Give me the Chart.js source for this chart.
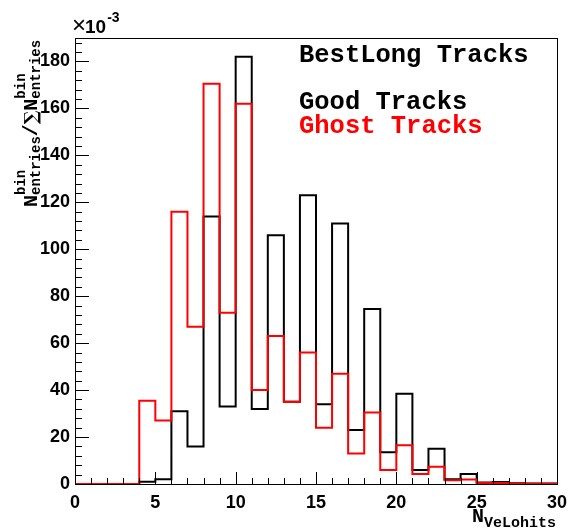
<!DOCTYPE html>
<html>
<head>
<meta charset="utf-8">
<script src="https://cdn.jsdelivr.net/npm/chart.js@4/dist/chart.umd.min.js"></script>
<style>
  html, body { margin: 0; padding: 0; background: #fff; }
  canvas { display: block; }
</style>
</head>
<body>
<canvas id="c" width="579" height="529"></canvas>
<script>
// Hit multiplicity histogram, unit-width bins from 0 to 30 (values in units of 1e-3)
const binLowEdges = [0,1,2,3,4,5,6,7,8,9,10,11,12,13,14,15,16,17,18,19,20,21,22,23,24,25,26,27,28,29];
const goodTracks  = [0,0,0,0,1,2,31,16,114,33,182,32,106,35,123,34,111,23,74.5,13.5,38.5,6,15,2,4.3,0.6,0.8,0.3,0.2,0.2];
const ghostTracks = [0,0,0,0,35.5,27,116,67,170.5,73,162,40,63,35,56,24,47,13,30.5,6,16.5,4.3,7.4,1.6,1.9,0.4,0.4,0.2,0.1,0.1];
const xTickValues = [0,5,10,15,20,25,30];
const yTickValues = [0,20,40,60,80,100,120,140,160,180];
const legendTitle = 'BestLong Tracks';
const seriesNames = ['Good Tracks', 'Ghost Tracks'];

const X_MAX = 30, Y_MAX = 190;

// Step outline: each point holds its value up to the next bin edge
function toSteps(values) {
  const pts = binLowEdges.map((x, i) => ({ x: x, y: values[i] }));
  pts.push({ x: X_MAX, y: values[values.length - 1] });
  return pts;
}

const MONO = '"Liberation Mono", "DejaVu Sans Mono", monospace';
const SANS = '"Liberation Sans", Arial, sans-serif';

// Frame, inward ticks, exponent label, axis titles and legend text
const decorations = {
  id: 'decorations',
  afterDatasetsDraw(chart) {
    const ctx = chart.ctx;
    const a = chart.chartArea;
    const xs = chart.scales.x, ys = chart.scales.y;
    ctx.save();

    // frame
    ctx.strokeStyle = '#000';
    ctx.lineWidth = 1;
    ctx.strokeRect(Math.round(a.left) + 0.5, Math.round(a.top) + 0.5,
                   Math.round(a.right - a.left), Math.round(a.bottom - a.top));

    // y ticks (major every 20, minor every 4)
    ctx.beginPath();
    for (let v = 0; v <= Y_MAX; v += 4) {
      const y = Math.round(ys.getPixelForValue(v)) + 0.5;
      const len = (v % 20 === 0) ? 14 : 7;
      ctx.moveTo(a.left, y);
      ctx.lineTo(a.left + len, y);
    }
    // x ticks (major every 5, minor every 1)
    for (let v = 0; v <= X_MAX; v += 1) {
      const x = Math.round(xs.getPixelForValue(v)) + 0.5;
      const len = (v % 5 === 0) ? 12 : 6;
      ctx.moveTo(x, a.bottom);
      ctx.lineTo(x, a.bottom - len);
    }
    ctx.stroke();

    // exponent marker
    ctx.fillStyle = '#000';
    ctx.textBaseline = 'alphabetic';
    ctx.textAlign = 'left';
    ctx.font = '24px ' + SANS;
    ctx.fillText('\u00D7', a.left - 3, 33);
    let ex = a.left - 3 + ctx.measureText('\u00D7').width - 1;
    ctx.font = 'bold 19px ' + SANS;
    ctx.fillText('10', ex, 33);
    ex += ctx.measureText('10').width;
    ctx.font = 'bold 14px ' + SANS;
    ctx.fillText('-3', ex + 1, 22);

    // y title: N^bin_entries / Sum N^bin_entries, rotated
    ctx.save();
    ctx.translate(37, 207);
    ctx.rotate(-Math.PI / 2);
    let tx = 0;
    const big = 'bold 20px ' + MONO, small = 'bold 14px ' + MONO;
    function bigText(t) {
      ctx.font = big; ctx.fillText(t, tx, 0); tx += ctx.measureText(t).width;
    }
    function supSub(sup, sub) {
      ctx.font = small;
      ctx.fillText(sup, tx, -12);
      ctx.fillText(sub, tx, 3);
      tx += Math.max(ctx.measureText(sup).width, ctx.measureText(sub).width);
    }
    bigText('N'); supSub('bin', 'entries');
    bigText('/');
    ctx.font = 'bold 18px "DejaVu Serif", serif';
    ctx.fillText('\u2211', tx, 0); tx += ctx.measureText('\u2211').width;
    bigText('N'); supSub('bin', 'entries');
    ctx.restore();

    // x title: N_VeLohits
    ctx.font = 'bold 20px ' + MONO;
    ctx.fillText('N', 472, 522);
    const nx = 472 + ctx.measureText('N').width;
    ctx.font = 'bold 15px ' + MONO;
    ctx.fillText('VeLohits', nx, 527);

    // legend text
    ctx.font = 'bold 25.5px ' + MONO;
    ctx.fillStyle = '#000';
    ctx.fillText(legendTitle, 299, 62);
    ctx.fillText(seriesNames[0], 299, 109);
    ctx.fillStyle = '#ff0000';
    ctx.fillText(seriesNames[1], 299, 133);

    ctx.restore();
  }
};

new Chart(document.getElementById('c'), {
  type: 'line',
  data: {
    datasets: [
      {
        label: seriesNames[0],
        data: toSteps(goodTracks),
        borderColor: '#000000',
        borderWidth: 2,
        stepped: true,
        pointRadius: 0,
        fill: false,
        order: 2
      },
      {
        label: seriesNames[1],
        data: toSteps(ghostTracks),
        borderColor: '#ff0000',
        borderWidth: 2,
        stepped: true,
        pointRadius: 0,
        fill: false,
        order: 1
      }
    ]
  },
  options: {
    responsive: false,
    animation: false,
    devicePixelRatio: 1,
    layout: { padding: { left: 0, right: 22, top: 38, bottom: 0 } },
    plugins: { legend: { display: false }, tooltip: { enabled: false } },
    scales: {
      x: {
        type: 'linear',
        min: 0, max: X_MAX,
        border: { display: false },
        grid: { display: false, drawTicks: false },
        afterBuildTicks(scale) { scale.ticks = xTickValues.map(v => ({ value: v })); },
        afterFit(scale) { scale.height = 45; },
        ticks: {
          padding: 8,
          color: '#000',
          maxRotation: 0,
          autoSkip: false,
          font: { family: SANS, size: 18, weight: 'bold' }
        }
      },
      y: {
        type: 'linear',
        min: 0, max: Y_MAX,
        border: { display: false },
        grid: { display: false, drawTicks: false },
        afterBuildTicks(scale) { scale.ticks = yTickValues.map(v => ({ value: v })); },
        afterFit(scale) { scale.width = 75; },
        ticks: {
          padding: 5,
          color: '#000',
          autoSkip: false,
          font: { family: SANS, size: 18, weight: 'bold' }
        }
      }
    }
  },
  plugins: [decorations]
});
</script>
</body>
</html>
